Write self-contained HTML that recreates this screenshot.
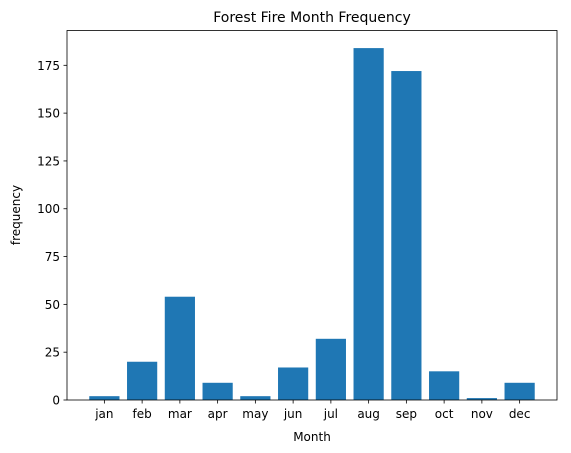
<!DOCTYPE html>
<html><head><meta charset="utf-8"><style>
body{margin:0;background:#fff;}
svg{display:block;font-family:"DejaVu Sans","Liberation Sans",sans-serif;}
</style></head><body>
<svg id="chart" width="571" height="453">
<text x="312" y="22" text-anchor="middle" font-size="14">Forest Fire Month Frequency</text>
<g id="bars"></g>
<g id="xticks"></g>
<g id="yticks"></g>
<rect x="67" y="30.5" width="490" height="369.5" fill="none" stroke="#000" stroke-width="0.8"/>
<text x="312" y="441" text-anchor="middle" font-size="12">Month</text>
<text transform="translate(20,215) rotate(-90)" text-anchor="middle" font-size="12">frequency</text>
</svg>
<script>
const categories=["jan","feb","mar","apr","may","jun","jul","aug","sep","oct","nov","dec"];
const values=[2,20,54,9,2,17,32,184,172,15,1,9];
const yTicks=[0,25,50,75,100,125,150,175];
const L=67,R=557,T=30.5,B=400;
const xmin=-0.99,xmax=11.99;
const ymax=Math.max(...values)*1.05;
const xs=i=>L+(i-xmin)/(xmax-xmin)*(R-L);
const ys=v=>B-v/ymax*(B-T);
const ns="http://www.w3.org/2000/svg";
const bars=document.getElementById('bars'),xt=document.getElementById('xticks'),yt=document.getElementById('yticks');
categories.forEach((c,i)=>{
  const r=document.createElementNS(ns,'rect');
  const x0=xs(i-0.4),x1=xs(i+0.4);
  r.setAttribute('x',x0);r.setAttribute('width',x1-x0);
  r.setAttribute('y',ys(values[i]));r.setAttribute('height',B-ys(values[i]));
  r.setAttribute('fill','#1f77b4');
  
  
  bars.appendChild(r);
  const l=document.createElementNS(ns,'line');
  l.setAttribute('x1',xs(i));l.setAttribute('x2',xs(i));l.setAttribute('y1',B);l.setAttribute('y2',B+3.5);l.setAttribute('stroke','#000');l.setAttribute('stroke-width','0.8');
  
  
  xt.appendChild(l);
  const t=document.createElementNS(ns,'text');
  t.setAttribute('x',xs(i));t.setAttribute('y',B+18);t.setAttribute('text-anchor','middle');t.setAttribute('font-size','12');
  t.textContent=c;
  
  
  xt.appendChild(t);
});
yTicks.forEach(v=>{
  const l=document.createElementNS(ns,'line');
  l.setAttribute('x1',L-3.5);l.setAttribute('x2',L);l.setAttribute('y1',ys(v));l.setAttribute('y2',ys(v));l.setAttribute('stroke','#000');l.setAttribute('stroke-width','0.8');
  
  
  yt.appendChild(l);
  const t=document.createElementNS(ns,'text');
  t.setAttribute('x',L-7);t.setAttribute('y',ys(v)+4.5);t.setAttribute('text-anchor','end');t.setAttribute('font-size','12');
  t.textContent=v;
  
  
  yt.appendChild(t);
});
</script>
</body></html>
